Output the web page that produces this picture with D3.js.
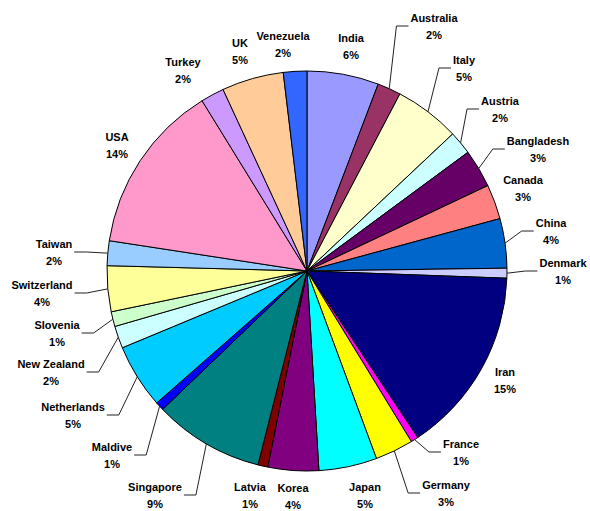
<!DOCTYPE html>
<html>
<head>
<meta charset="utf-8">
<script src="https://cdn.jsdelivr.net/npm/d3@7"></script>
<style>
  body { margin: 0; background: #fff; }
  text { font-family: "Liberation Sans", Arial, sans-serif; font-weight: bold; font-size: 11px; fill: #000; }
</style>
</head>
<body>
<div id="pie"></div>
<script>
var countries = ["India", "Australia", "Italy", "Austria", "Bangladesh", "Canada", "China", "Denmark",
  "Iran", "France", "Germany", "Japan", "Korea", "Latvia", "Singapore", "Maldive", "Netherlands",
  "New Zealand", "Slovenia", "Switzerland", "Taiwan", "USA", "Turkey", "UK", "Venezuela"];

var shares = [5.8, 1.9, 5.3, 1.9, 3.1, 2.8, 4.0, 0.8,
  15.1, 0.6, 3.1, 4.7, 4.1, 0.8, 8.9, 0.7, 5.2,
  1.8, 1.2, 3.7, 2.0, 13.8, 1.9, 5.0, 1.9];

var colours = ["#9999ff", "#993366", "#ffffcc", "#ccffff", "#660066", "#ff8080", "#0066cc", "#ccccff",
  "#000080", "#ff00ff", "#ffff00", "#00ffff", "#800080", "#800000", "#008080", "#0000ff", "#00ccff",
  "#ccffff", "#ccffcc", "#ffff99", "#99ccff", "#ff99cc", "#cc99ff", "#ffcc99", "#3366ff"];

// label centre (x, y of first line)
var labelAt = {
  "India": [351, 38], "Australia": [434, 18], "Italy": [464, 60], "Austria": [500, 101],
  "Bangladesh": [538, 141], "Canada": [523, 180], "China": [551, 223], "Denmark": [563, 263],
  "Iran": [505, 372], "France": [461, 444], "Germany": [446, 485], "Japan": [365, 487],
  "Korea": [293, 488], "Latvia": [250, 487], "Singapore": [155, 487], "Maldive": [112, 447],
  "Netherlands": [73, 407], "New Zealand": [51, 364], "Slovenia": [57, 325], "Switzerland": [42, 285],
  "Taiwan": [54, 244], "USA": [117, 137], "Turkey": [183, 62], "UK": [240, 43], "Venezuela": [283, 36]
};

var withLeader = ["Australia", "Italy", "Austria", "Bangladesh", "China", "Denmark", "France",
  "Germany", "Singapore", "Maldive", "Netherlands", "New Zealand", "Slovenia", "Switzerland", "Taiwan"];

var width = 590, height = 511;
var cx = 307, cy = 271, radius = 200;
var line_gap = 17;

var svg = d3
  .select("#pie")
  .append("svg")
  .attr("width", width)
  .attr("height", height);

var total = d3.sum(shares);
var pie = d3.pie().sort(null).value(function (d) { return d; });
var arcs = pie(shares);
var arc = d3.arc().innerRadius(0).outerRadius(radius);

svg
  .append("g")
  .attr("transform", "translate(" + cx + "," + cy + ")")
  .selectAll("path")
  .data(arcs)
  .enter()
  .append("path")
  .attr("d", arc)
  .attr("fill", function (d, i) { return colours[i]; })
  .attr("stroke", "#000")
  .attr("stroke-width", 1);

var labels = svg.append("g");
var leaders = svg.append("g");

arcs.forEach(function (d, i) {
  var name = countries[i];
  var pos = labelAt[name];
  var pct = Math.round((d.value / total) * 100) + "%";

  var t1 = labels.append("text")
    .attr("x", pos[0]).attr("y", pos[1] + 4)
    .attr("text-anchor", "middle")
    .text(name);
  var t2 = labels.append("text")
    .attr("x", pos[0]).attr("y", pos[1] + line_gap + 4)
    .attr("text-anchor", "middle")
    .text(pct);

  if (withLeader.indexOf(name) < 0) return;

  var half = Math.max(t1.node().getComputedTextLength(), t2.node().getComputedTextLength()) / 2;
  var mid = (d.startAngle + d.endAngle) / 2;
  var ex = cx + radius * Math.sin(mid);
  var ey = cy - radius * Math.cos(mid);
  var sy = pos[1] + 8;
  var sx, kx;
  if (pos[0] > ex) {
    sx = pos[0] - half - 2;
    kx = sx - 12;
  } else {
    sx = pos[0] + half + 2;
    kx = sx + 12;
  }
  leaders.append("polyline")
    .attr("points", [[ex, ey], [kx, sy], [sx, sy]].map(function (p) { return p.join(","); }).join(" "))
    .attr("fill", "none")
    .attr("stroke", "#222")
    .attr("stroke-width", 1);
});
</script>
</body>
</html>
